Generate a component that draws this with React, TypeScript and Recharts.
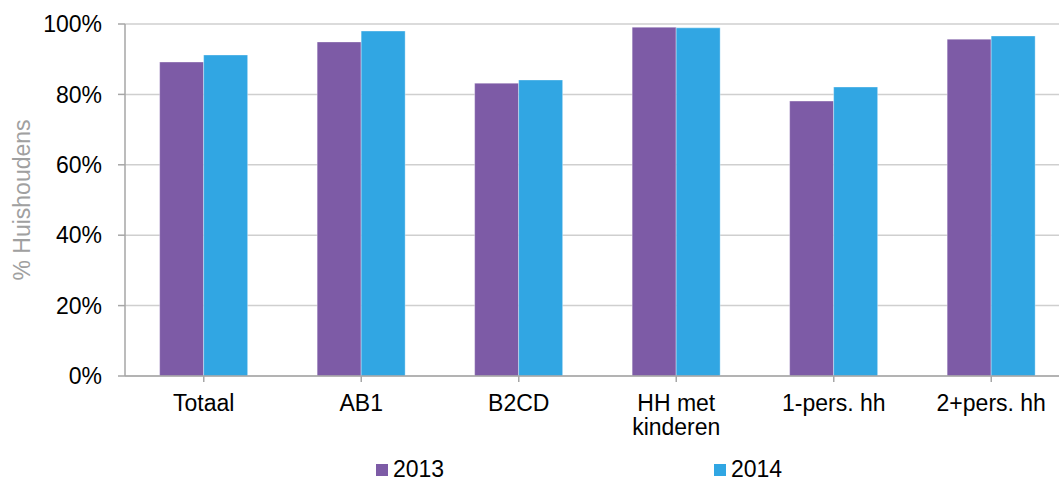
import React from "react";
import { BarChart, Bar, XAxis, YAxis, CartesianGrid, Legend } from "recharts";

// data (percent of households)
const categories = ["Totaal", "AB1", "B2CD", "HH met kinderen", "1-pers. hh", "2+pers. hh"];
const values2013 = [89.2, 94.9, 83.2, 99.1, 78.1, 95.7];
const values2014 = [91.2, 98.0, 84.1, 98.9, 82.1, 96.6];
const seriesNames = ["2013", "2014"];
const seriesColors = ["#7D5BA6", "#31A6E3"];
const yTicks = [0, 20, 40, 60, 80, 100];
const boundaryTicks = [0, 1, 2, 3, 4, 5, 6];

const data = categories.map((name, i) => ({
  name,
  y2013: values2013[i],
  y2014: values2014[i],
}));

const FONT = "'Liberation Sans', Arial, sans-serif";

const CategoryTick = (props: any) => {
  const { x, y, payload } = props;
  const text: string = payload.value;
  const cut = text.lastIndexOf(" ");
  const lines = text.length > 12 ? [text.slice(0, cut), text.slice(cut + 1)] : [text];
  return (
    <text x={x} y={y} textAnchor="middle" fontSize={23} fill="#000" fontFamily={FONT}>
      {lines.map((l, i) => (
        <tspan key={i} x={x} dy={i === 0 ? 27 : 24}>
          {l}
        </tspan>
      ))}
    </text>
  );
};

const YLabel = (props: any) => {
  const vb = props.viewBox;
  const cx = vb.x + 22;
  const cy = vb.y + vb.height / 2;
  return (
    <text
      x={cx}
      y={cy}
      transform={`rotate(-90, ${cx}, ${cy})`}
      textAnchor="middle"
      dominantBaseline="central"
      fontSize={23}
      fill="#A0A0A0"
      fontFamily={FONT}
    >
      % Huishoudens
    </text>
  );
};

const renderLegend = (props: any) => (
  <div
    style={{
      display: "flex",
      paddingLeft: 376,
      height: 27,
      alignItems: "center",
      fontFamily: FONT,
      fontSize: 23,
      color: "#000",
    }}
  >
    {(props.payload || []).map((entry: any) => (
      <div key={entry.value} style={{ width: 338, display: "flex", alignItems: "center" }}>
        <span style={{ display: "inline-block", width: 12, height: 12, background: entry.color, marginRight: 5 }} />
        <span>{entry.value}</span>
      </div>
    ))}
  </div>
);

export default function App() {
  return (
    <div style={{ position: "absolute", left: 0, top: 0, width: 1059, height: 483, overflow: "hidden", background: "#fff" }}>
      <BarChart
        width={1080}
        height={483}
        data={data}
        margin={{ top: 24, right: 10, left: 0, bottom: 0 }}
        barCategoryGap="22%"
        barGap={0}
      >
        <CartesianGrid vertical={false} stroke="#CFCFCF" strokeWidth={1.5} />
        <XAxis
          xAxisId="bounds"
          type="number"
          domain={[0, 6]}
          ticks={boundaryTicks}
          allowDataOverflow
          height={0}
          tick={false}
          tickSize={6}
          axisLine={false}
          tickLine={{ stroke: "#A6A6A6", strokeWidth: 1.5 }}
        />
        <XAxis
          dataKey="name"
          height={80}
          tick={<CategoryTick />}
          tickSize={6}
          tickMargin={2}
          interval={0}
          axisLine={{ stroke: "#A6A6A6", strokeWidth: 1.5 }}
          tickLine={{ stroke: "#A6A6A6", strokeWidth: 1.5 }}
        />
        <YAxis
          width={125}
          domain={[0, 100]}
          ticks={yTicks}
          tickFormatter={(v: number) => `${v}%`}
          tickSize={7}
          tickMargin={16}
          tick={{ fontSize: 23, fill: "#000", fontFamily: FONT }}
          axisLine={{ stroke: "#A6A6A6", strokeWidth: 1.5 }}
          tickLine={{ stroke: "#A6A6A6", strokeWidth: 1.5 }}
          label={<YLabel />}
        />
        <Legend verticalAlign="bottom" height={27} content={renderLegend} wrapperStyle={{ left: 0, width: 1080 }} />
        <Bar
          dataKey="y2013"
          name={seriesNames[0]}
          fill={seriesColors[0]}
          stroke="#ffffff"
          strokeOpacity={0.35}
          isAnimationActive={false}
        />
        <Bar
          dataKey="y2014"
          name={seriesNames[1]}
          fill={seriesColors[1]}
          stroke="#ffffff"
          strokeOpacity={0.35}
          isAnimationActive={false}
        />
      </BarChart>
    </div>
  );
}
